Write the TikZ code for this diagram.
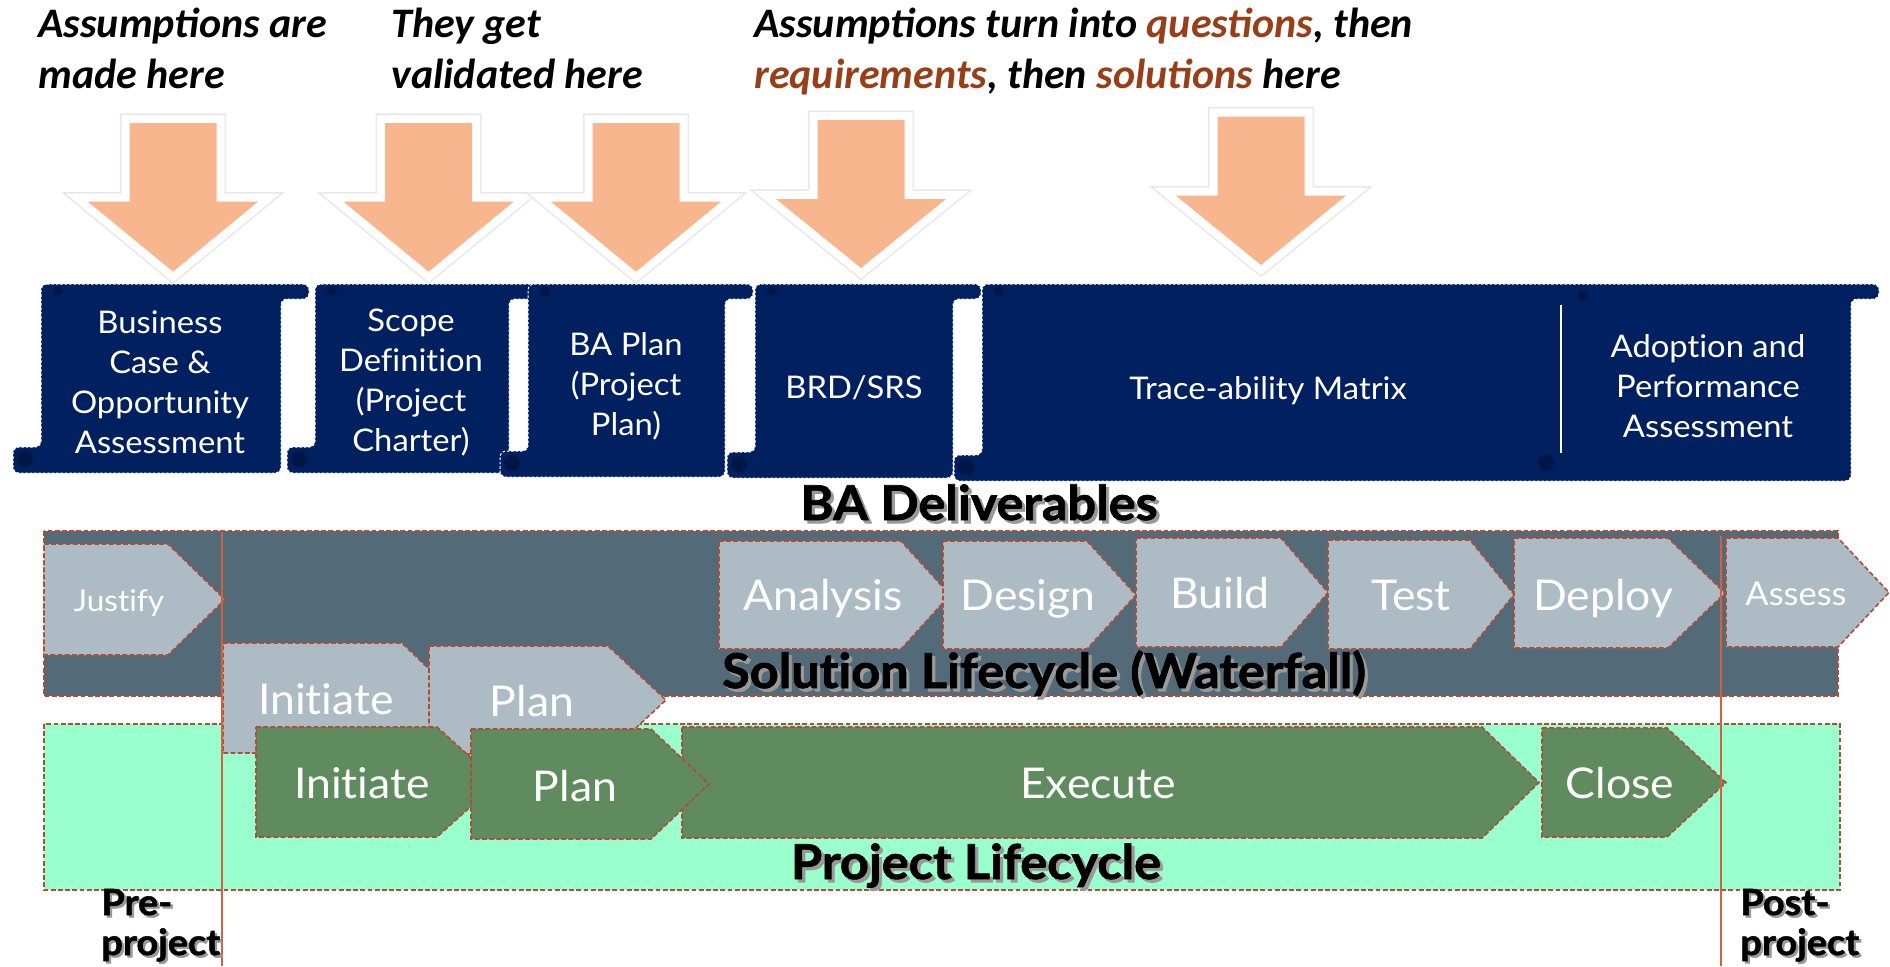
\documentclass[tikz,border=0pt]{standalone}
\usepackage{fontspec}
\newfontfamily\capfont{Carlito}
\newfontfamily\gillfont[FakeStretch=1.05,Ligatures=NoCommon,BoldFeatures={FakeBold=1.5}]{Lato}

\definecolor{navy}{RGB}{0,32,96}
\definecolor{navycurl}{RGB}{0,22,70}
\definecolor{salmon}{RGB}{248,182,143}
\definecolor{rust}{RGB}{152,62,24}
\definecolor{slate}{RGB}{83,106,121}
\definecolor{phase}{RGB}{173,187,196}
\definecolor{mint}{RGB}{153,255,204}
\definecolor{leaf}{RGB}{96,139,95}
\definecolor{edgecol}{RGB}{176,76,56}
\definecolor{linecol}{RGB}{208,98,66}

% down-pointing block arrow: centre x, shaft top, head base, tip
\newcommand\salmonarrow[4]{%
  \path[arrowglow] ({#1-43.5},#2) -- ({#1+43.5},#2) -- ({#1+43.5},#3) -- ({#1+85},#3) -- (#1,#4) -- ({#1-85},#3) -- ({#1-43.5},#3) -- cycle;
  \path[arrowrim]  ({#1-43.5},#2) -- ({#1+43.5},#2) -- ({#1+43.5},#3) -- ({#1+85},#3) -- (#1,#4) -- ({#1-85},#3) -- ({#1-43.5},#3) -- cycle;
  \path[arrowfill] ({#1-43.5},#2) -- ({#1+43.5},#2) -- ({#1+43.5},#3) -- ({#1+85},#3) -- (#1,#4) -- ({#1-85},#3) -- ({#1-43.5},#3) -- cycle;}

% vertical scroll: body left, body right, top, bottom
\newcommand\scrollbox[4]{%
  \path[scroll] (#1,#3) -- ({#2+28},#3) -- ({#2+28},{#3+15}) -- (#2,{#3+15}) -- (#2,#4) -- ({#1-28},#4) -- ({#1-28},{#4-26}) -- (#1,{#4-26}) -- cycle;
  \fill[curl] ({#1+17},{#3+7}) circle[radius=5];
  \fill[curl] ({#1-16},{#4-14}) circle[radius=8];}

% pentagon (chevron with flat back): style, left, top, shoulder, tip, bottom
\newcommand\phaseshape[6]{%
  \path[#1] (#2,#3) -- (#4,#3) -- (#5,{(#3+#6)/2}) -- (#4,#6) -- (#2,#6) -- cycle;}

\begin{document}
\begin{tikzpicture}[x=0.5pt,y=-0.5pt,
  arrowglow/.style={draw=black!9,line width=9.6pt,line join=miter},
  arrowrim/.style={draw=white,line width=8pt,line join=miter},
  arrowfill/.style={fill=salmon},
  scroll/.style={fill=navy,draw=white,line width=0.5pt,dash pattern=on 1.3pt off 0.9pt,rounded corners=3pt},
  curl/.style={fill=navycurl},
  scrolltext/.style={text=white,inner sep=0pt,align=center,font=\gillfont\fontsize{15.6pt}{20pt}\selectfont},
  band/.style={draw=edgecol,line width=0.8pt,dash pattern=on 2.4pt off 1.2pt},
  solphase/.style={band,fill=phase},
  projphase/.style={band,fill=leaf},
  phasetext/.style={text=white,inner sep=0pt,anchor=base,font=\gillfont\fontsize{21.2pt}{25pt}\selectfont},
  heading/.style={inner sep=0pt,anchor=base,font=\gillfont\bfseries\fontsize{24pt}{28pt}\selectfont},
  headshadow/.style={heading,text=black!40,xshift=1.6pt,yshift=-1.6pt},
  sidelabel/.style={inner sep=0pt,anchor=base west,font=\gillfont\bfseries\fontsize{18pt}{22pt}\selectfont},
  sideshadow/.style={sidelabel,text=black!40,xshift=1.2pt,yshift=-1.2pt},
  capt/.style={inner sep=0pt,anchor=base west,font=\capfont\bfseries\itshape\fontsize{21pt}{25pt}\selectfont},
  phaseline/.style={draw=linecol,line width=1.2pt}]
\useasboundingbox (0,0) rectangle (1890,966);

% ---- captions ----
\node[capt] (capA1) at (38,37) {Assumptions are};
\node[capt] (capA2) at (38,88) {made here};
\node[capt] (capB1) at (391,37) {They get};
\node[capt] (capB2) at (391,88) {validated here};
\node[capt] (capC1) at (754,37) {Assumptions turn into \textcolor{rust}{questions}, then};
\node[capt] (capC2) at (754,88) {\textcolor{rust}{requirements}, then \textcolor{rust}{solutions} here};

% ---- deliverable scrolls ----
\scrollbox{41}{281}{284}{473}
\scrollbox{315}{509}{284}{473}
\scrollbox{528}{725}{284}{477}
\scrollbox{755}{953}{284}{478}
\scrollbox{982}{1851}{284}{481}
\draw[white,line width=1.4pt] (1561,305) -- (1561,453);
\fill[curl] (1583,295) circle[radius=5];
\fill[curl] (1546,463) circle[radius=8];

\node[scrolltext] (bizcase) at (160,382) {Business\\Case \&\\Opportunity\\Assessment};
\node[scrolltext] (scope) at (411,382) {Scope\\Definition\\(Project\\Charter)};
\node[scrolltext] (baplan) at (626,386) {BA Plan\\(Project\\Plan)};
\node[scrolltext,anchor=base] (brd) at (854,398) {BRD/SRS};
\node[scrolltext,anchor=base] (trace) at (1268,399) {Trace-ability Matrix};
\node[scrolltext] (adopt) at (1708,386) {Adoption and\\Performance\\Assessment};

% ---- arrows ----
\salmonarrow{173}{123}{201.7}{271.7}
\salmonarrow{428.6}{123}{201.7}{271.7}
\salmonarrow{636}{123}{201.7}{271.7}
\salmonarrow{861}{120}{199}{268}
\salmonarrow{1261}{116.7}{195.7}{265}

% ---- BA deliverables heading ----
\node[headshadow] (badshadow) at (979,520) {BA Deliverables};
\node[heading] (bad) at (979,520) {BA Deliverables};

% ---- solution lifecycle ----
\path[band,fill=slate] (44,531) rectangle (1838,696);
\phaseshape{solphase}{44}{544}{168}{225}{655}
\phaseshape{solphase}{719}{541}{901}{950}{649}
\phaseshape{solphase}{943}{541}{1087}{1136}{649}
\phaseshape{solphase}{1136}{538}{1281}{1328}{647}
\phaseshape{solphase}{1328}{540}{1470}{1514}{649}
\phaseshape{solphase}{1514}{538}{1668}{1725}{648}
\phaseshape{solphase}{1726}{538}{1838}{1889}{647}

% ---- project lifecycle ----
\path[band,fill=mint] (44,724) rectangle (1840,890);
\phaseshape{solphase}{223}{643}{402}{459}{753}
\phaseshape{solphase}{429}{646}{608}{666}{754}
\phaseshape{projphase}{256}{727}{437}{498}{837}
\phaseshape{projphase}{682}{727}{1482}{1539}{838}
\phaseshape{projphase}{471}{729}{651}{709}{839}
\phaseshape{projphase}{1542}{728}{1667}{1726}{837}

% ---- project boundaries ----
\coordinate (startTop) at (222,532);
\coordinate (startBot) at (222,966);
\coordinate (endTop) at (1721,536);
\coordinate (endBot) at (1721,966);
\draw[phaseline] (startTop) -- (startBot);
\draw[phaseline] (endTop) -- (endBot);

% ---- phase labels ----
\node[phasetext,font=\gillfont\fontsize{15pt}{18pt}\selectfont] (justify) at (119,611) {Justify};
\node[phasetext] (analysis) at (823,610) {Analysis};
\node[phasetext] (design) at (1028,610) {Design};
\node[phasetext] (build) at (1220,608) {Build};
\node[phasetext] (test) at (1411,610) {Test};
\node[phasetext] (deploy) at (1603,610) {Deploy};
\node[phasetext,font=\gillfont\fontsize{16.4pt}{19pt}\selectfont] (assess) at (1796,605) {Assess};
\node[phasetext] (ginit) at (326,714) {Initiate};
\node[phasetext] (gplan) at (532,716) {Plan};
\node[phasetext] (pinit) at (362,798) {Initiate};
\node[phasetext] (pplan) at (575,801) {Plan};
\node[phasetext] (exec) at (1098,798) {Execute};
\node[phasetext] (close) at (1620,798) {Close};

\node[headshadow] (solshadow) at (1044,688) {Solution Lifecycle (Waterfall)};
\node[heading] (sol) at (1044,688) {Solution Lifecycle (Waterfall)};
\node[headshadow] (projshadow) at (976,879) {Project Lifecycle};
\node[heading] (proj) at (976,879) {Project Lifecycle};

\node[sideshadow] (preshadowA) at (101,915) {Pre-};
\node[sideshadow] (preshadowB) at (101,955) {project};
\node[sidelabel] (preA) at (101,915) {Pre-};
\node[sidelabel] (preB) at (101,955) {project};
\node[sideshadow] (postshadowA) at (1740,915) {Post-};
\node[sideshadow] (postshadowB) at (1740,955) {project};
\node[sidelabel] (postA) at (1740,915) {Post-};
\node[sidelabel] (postB) at (1740,955) {project};
\end{tikzpicture}
\end{document}
